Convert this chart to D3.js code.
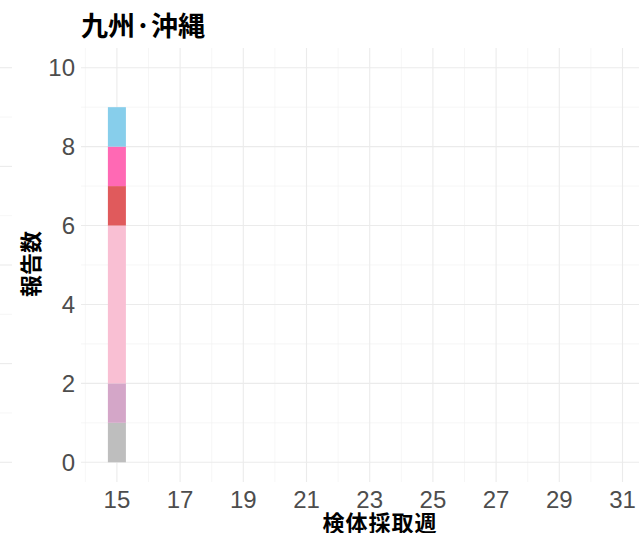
<!DOCTYPE html>
<html>
<head>
<meta charset="utf-8">
<script src="https://cdn.jsdelivr.net/npm/d3@7"></script>
<style>
  html, body { margin: 0; padding: 0; background: #fff; }
  svg { display: block; }
</style>
</head>
<body>
<svg id="chart" width="639" height="533"></svg>
<script>
// Region shown in this panel
const region = "九州·沖縄";
// Specimen collection week of the stacked bar
const weeks = [15];
// Stacked categories (bottom to top) and their report counts in week 15
const categories = ["c1", "c2", "c3", "c4", "c5", "c6"];
const counts = [1, 1, 4, 1, 1, 1];
const colors = ["#BEBEBE", "#D4A6C8", "#F9BFD3", "#E05A5C", "#FF69B4", "#87CEEB"];
// Axis ticks
const xTicks = [15, 17, 19, 21, 23, 25, 27, 29, 31];
const xMinor = [14, 16, 18, 20, 22, 24, 26, 28, 30, 32];
const yTicks = [0, 2, 4, 6, 8, 10];
const yMinor = [1, 3, 5, 7, 9];

const svg = d3.select("#chart");
const W = 639, H = 533;
const panel = { left: 81, right: 660, top: 48, bottom: 482 };

const xLo = 13.864, xHi = 32.3;
const x = d3.scaleLinear().domain([xLo, xHi]).range([panel.left, panel.left + (xHi - xLo) * 31.6]);
const y = d3.scaleLinear().domain([-0.5, 10.5]).range([panel.bottom, panel.top]);

const grid = svg.append("g");
// minor grid
grid.selectAll("line.ymin").data(yMinor).join("line")
  .attr("x1", panel.left).attr("x2", W)
  .attr("y1", d => y(d)).attr("y2", d => y(d))
  .attr("stroke", "#F0F0F0").attr("stroke-width", 0.6);
grid.selectAll("line.xmin").data(xMinor).join("line")
  .attr("x1", d => x(d)).attr("x2", d => x(d))
  .attr("y1", panel.top).attr("y2", panel.bottom)
  .attr("stroke", "#F0F0F0").attr("stroke-width", 0.6);
// major grid
grid.selectAll("line.ymaj").data(yTicks).join("line")
  .attr("x1", panel.left).attr("x2", W)
  .attr("y1", d => y(d)).attr("y2", d => y(d))
  .attr("stroke", "#EBEBEB").attr("stroke-width", 1.1);
grid.selectAll("line.xmaj").data(xTicks).join("line")
  .attr("x1", d => x(d)).attr("x2", d => x(d))
  .attr("y1", panel.top).attr("y2", panel.bottom)
  .attr("stroke", "#EBEBEB").attr("stroke-width", 1.1);

// grid of the neighbouring panel visible at the left edge
const edgeY = d3.scaleLinear().domain([0, 8]).range([y(0), y(10)]);
svg.append("g").selectAll("line").data(d3.range(0, 9)).join("line")
  .attr("x1", 0).attr("x2", 12)
  .attr("y1", d => edgeY(d)).attr("y2", d => edgeY(d))
  .attr("stroke", d => d % 2 === 0 ? "#EBEBEB" : "#F0F0F0")
  .attr("stroke-width", d => d % 2 === 0 ? 1.1 : 0.6);

// stacked bar
const stackData = [Object.fromEntries([["week", weeks[0]], ...categories.map((c, i) => [c, counts[i]])])];
const series = d3.stack().keys(categories)(stackData);
const barW = 0.57;
svg.append("g").selectAll("rect").data(series).join("rect")
  .attr("x", d => x(d[0].data.week - barW / 2))
  .attr("width", x(barW) - x(0))
  .attr("y", d => y(d[0][1]))
  .attr("height", d => y(d[0][0]) - y(d[0][1]))
  .attr("fill", (d, i) => colors[i]);

// tick labels
const tickFont = "'Liberation Sans', Arial, sans-serif";
svg.append("g").selectAll("text").data(xTicks).join("text")
  .attr("x", d => x(d)).attr("y", 508)
  .attr("text-anchor", "middle")
  .attr("font-family", tickFont).attr("font-size", 24)
  .attr("fill", "#4D4D4D")
  .text(d => d);
svg.append("g").selectAll("text").data(yTicks).join("text")
  .attr("x", 75).attr("y", d => y(d) + 8.6)
  .attr("text-anchor", "end")
  .attr("font-family", tickFont).attr("font-size", 24)
  .attr("fill", "#4D4D4D")
  .text(d => d);

// titles
const cjk = "'Noto Sans CJK JP', 'Noto Sans', sans-serif";
svg.append("text").attr("x", 81).attr("y", 36)
  .attr("font-family", cjk).attr("font-weight", "bold").attr("font-size", 27)
  .attr("fill", "#000").text(region);
svg.append("text").attr("x", 380).attr("y", 531)
  .attr("text-anchor", "middle")
  .attr("font-family", cjk).attr("font-weight", "bold").attr("font-size", 22)
  .attr("letter-spacing", 1)
  .attr("fill", "#000").text("検体採取週");
svg.append("text")
  .attr("transform", "translate(39,264) rotate(-90)")
  .attr("text-anchor", "middle")
  .attr("font-family", cjk).attr("font-weight", "bold").attr("font-size", 22)
  .attr("fill", "#000").text("報告数");
</script>
</body>
</html>
